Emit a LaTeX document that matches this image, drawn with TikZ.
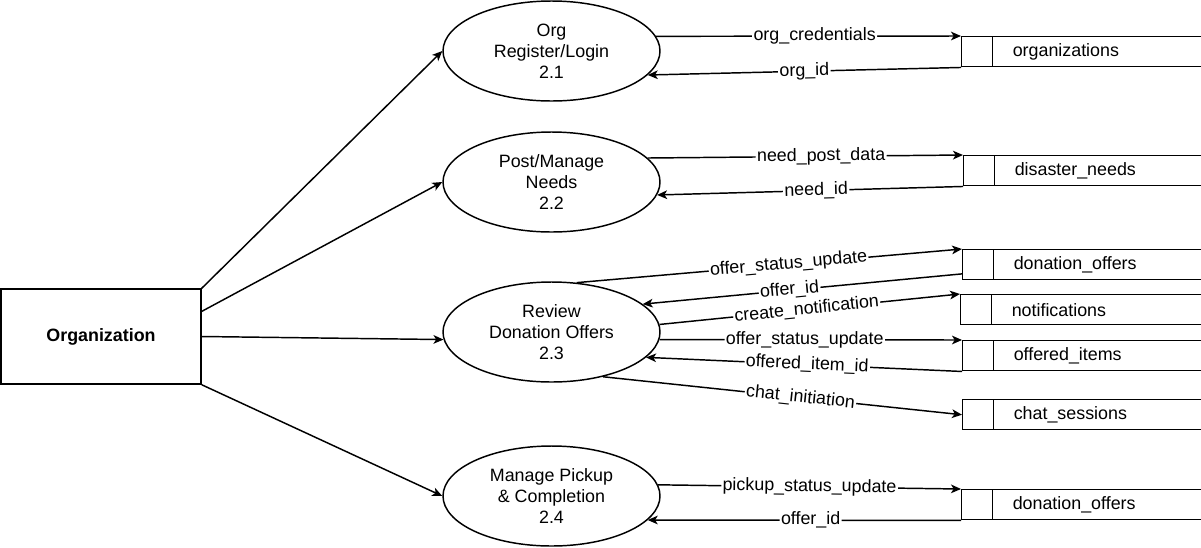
\documentclass[tikz,border=0pt]{standalone}
\usepackage{fontspec}
\setmainfont{Liberation Sans}
\usepackage{tikz}
\usetikzlibrary{arrows.meta,shapes.geometric}

\begin{document}
\begin{tikzpicture}[x=0.75pt, y=-0.75pt, line width=1.1pt, >={Stealth[length=7.5pt,width=6.5pt,inset=2pt]},
  font=\fontsize{13.4}{15.8}\selectfont,
  proc/.style={draw, ellipse, minimum width=162.75pt, minimum height=75pt, inner sep=0pt, align=center},
  ent/.style={draw, rectangle, minimum width=150pt, minimum height=71.25pt},
  store/.style={draw, rectangle, anchor=north west, minimum height=22.5pt, inner ysep=0pt,
    inner xsep=38.25pt, text width=118.5pt, align=left,
    path picture={\draw ([xshift=23.25pt]path picture bounding box.north west) -- ([xshift=23.25pt]path picture bounding box.south west);}},
  lbl/.style={sloped, fill=white, inner xsep=1pt, inner ysep=0pt}]
\useasboundingbox (0,0) rectangle (1201,547);
\clip (0,0) rectangle (1201,547);

\node[ent] (org) at (101,336.5) {\textbf{Organization}};

\node[proc] (p21) at (551.5,51) {Org\\Register/Login\\2.1};
\node[proc] (p22) at (551.5,182) {Post/Manage\\Needs\\2.2};
\node[proc] (p23) at (551.5,332) {Review\\Donation Offers\\2.3};
\node[proc] (p24) at (551.5,496) {Manage Pickup\\\& Completion\\2.4};

\node[store] (s1) at (961,36) {organizations};
\node[store] (s2) at (963,155) {disaster\_needs};
\node[store] (s3) at (962,249) {donation\_offers};
\node[store] (s4) at (960,294) {notifications};
\node[store] (s5) at (962,340) {offered\_items};
\node[store] (s6) at (962,399) {chat\_sessions};
\node[store] (s7) at (961,489) {donation\_offers};

\draw[->] (org.north east) -- (p21.west);
\draw[->] (org.14) -- (p22.west);
\draw[->] (org.east) -- (p23.184);
\draw[->] (org.south east) -- (p24.west);

\draw[->] (p21.8) -- node[lbl,pos=.52] {org\_credentials} (s1.north west);
\draw[->] (s1.south west) -- node[lbl] {org\_id} (p21.-14);
\draw[->] (p22.14) -- node[lbl,pos=.55] {need\_post\_data} (s2.north west);
\draw[->] (s2.south west) -- node[lbl,pos=.48] {need\_id} (p22.-7);
\draw[->] (p23.63) -- node[lbl,pos=.55] {offer\_status\_update} (s3.north west);
\draw[->] (s3.184) -- node[lbl,pos=.54] {offer\_id} (p23.17);
\draw[->] (p23.4) -- node[lbl,pos=.49] {create\_notification} (s4.north west);
\draw[->] (p23.-4) -- node[lbl,pos=.48] {offer\_status\_update} (s5.north west);
\draw[->] (s5.south west) -- node[lbl,pos=.49] {offered\_item\_id} (p23.-15);
\draw[->] (p23.-41) -- node[lbl,pos=.55] {chat\_initiation} (s6.west);
\draw[->] (p24.6) -- node[lbl] {pickup\_status\_update} (s7.north west);
\draw[->] (s7.south west) -- node[lbl,pos=.48] {offer\_id} (p24.-14);
\end{tikzpicture}
\end{document}
